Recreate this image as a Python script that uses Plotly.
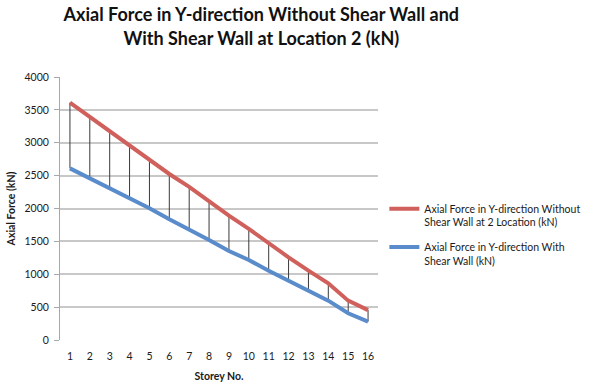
import plotly.graph_objects as go

# Storey numbers and axial forces (kN)
storeys = list(range(1, 17))
without_wall = [3610, 3395, 3170, 2965, 2750, 2525, 2330, 2105,
                1890, 1690, 1470, 1258, 1055, 862, 598, 455]
with_wall = [2610, 2460, 2298, 2155, 2003, 1836, 1684, 1521,
             1354, 1217, 1054, 902, 745, 598, 406, 279]
y_ticks = list(range(0, 4001, 500))

FONT = "Lato"
TXT = "#1a1a1a"

# high-low connectors between the two series at each storey
hl_x, hl_y = [], []
for s, a, b in zip(storeys, without_wall, with_wall):
    hl_x += [s, s, None]
    hl_y += [a, b, None]

fig = go.Figure()
fig.add_trace(go.Scatter(x=hl_x, y=hl_y, mode="lines",
                         line=dict(color="#3a3a3a", width=1),
                         showlegend=False, hoverinfo="skip"))
fig.add_trace(go.Scatter(
    x=storeys, y=without_wall, mode="lines", legendgroup="a",
    name="Axial Force in Y-direction Without<br>Shear Wall at 2 Location (kN)",
    line=dict(color="#D0605C", width=4)))
fig.add_trace(go.Scatter(
    x=storeys, y=with_wall, mode="lines", legendgroup="b",
    name="Axial Force in Y-direction With<br>Shear Wall (kN)",
    line=dict(color="#5A8CCB", width=4)))

fig.update_layout(
    width=598, height=387,
    margin=dict(l=60, r=218, t=77, b=47),
    paper_bgcolor="white", plot_bgcolor="white",
    font=dict(family=FONT, color=TXT),
    title=dict(
        text="<b>Axial Force in Y-direction Without Shear Wall and<br>With Shear Wall at Location 2 (kN)</b>",
        x=0.437, xanchor="center", xref="container",
        y=0.945, yanchor="middle", yref="container",
        font=dict(family=FONT, size=18, color="#111")),
    legend=dict(x=1.02, y=0.55, xanchor="left", yanchor="top",
                valign="top", font=dict(family=FONT, size=10.5, color=TXT),
                itemwidth=30, tracegroupgap=8, bgcolor="rgba(0,0,0,0)"),
    xaxis=dict(
        range=[0.5, 16.5], tickmode="array", tickvals=storeys,
        ticktext=[str(s) for s in storeys], showgrid=False, automargin=False,
        zeroline=False, showline=False, ticks="", ticklabelstandoff=8,
        tickfont=dict(family=FONT, size=10.5, color=TXT),
        title=dict(text="<b>Storey No.</b>", standoff=12,
                   font=dict(family=FONT, size=10.5, color=TXT))),
    yaxis=dict(
        range=[0, 4000], tickmode="array", tickvals=y_ticks, automargin=False,
        showgrid=True, gridcolor="#C8C8C8", gridwidth=1.5,
        zeroline=False, showline=True, linecolor="#A8A8A8", linewidth=1,
        ticks="outside", ticklen=5, tickcolor="#A8A8A8", ticklabelstandoff=3,
        tickfont=dict(family=FONT, size=10.5, color=TXT),
        title=dict(text="<b>Axial Force (kN)</b>", standoff=6,
                   font=dict(family=FONT, size=10.5, color=TXT))),
)

fig.write_html("out.html")
